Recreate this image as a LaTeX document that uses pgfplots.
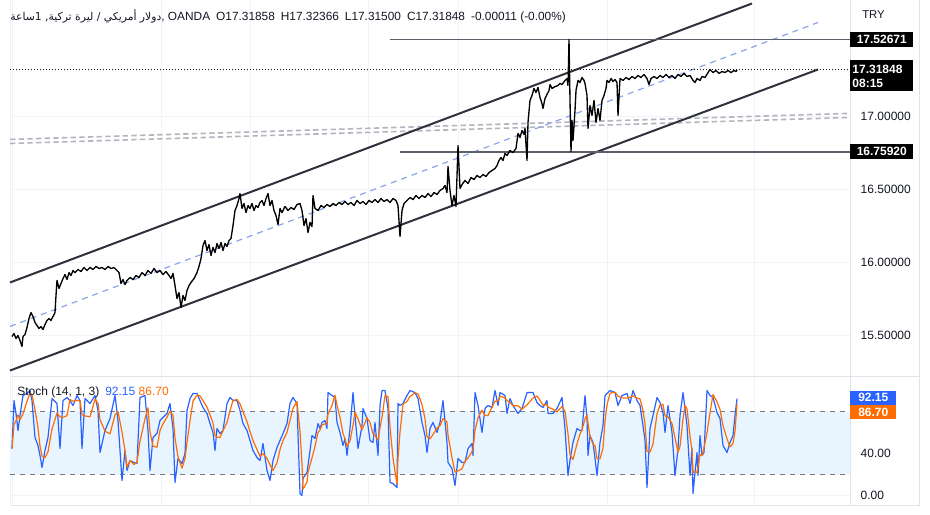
\documentclass[border=0pt]{standalone}
\usepackage{fontspec}
\setmainfont{Liberation Sans}
\newfontfamily\arabicfont[Script=Arabic]{DejaVu Sans}
\TeXXeTstate=1
\usepackage{pgfplots}
\pgfplotsset{compat=1.18}
\definecolor{tvtext}{HTML}{131722}
\definecolor{tvgrid}{HTML}{F0F3FA}
\definecolor{tvborder}{HTML}{E0E3EB}
\definecolor{kblue}{HTML}{2962FF}
\definecolor{dorange}{HTML}{FF6D00}
\definecolor{band}{HTML}{E9F5FE}
\definecolor{midblue}{HTML}{8BA4EA}
\definecolor{dashgray}{HTML}{B2B5BE}
\definecolor{chan}{HTML}{2F323C}
\definecolor{hline}{HTML}{5D606B}
\definecolor{levgray}{HTML}{787B86}
\begin{document}
\begin{tikzpicture}
\path[fill=white] (0pt,0pt) rectangle (697.5pt,381pt);
% frame lines
\draw[tvborder, line width=0.75pt] (637.5pt,2.25pt) -- (637.5pt,381pt);
\draw[tvborder, line width=0.75pt] (689.25pt,2.25pt) -- (689.25pt,381pt);
\draw[tvborder, line width=0.75pt] (7.5pt,99pt) -- (689.25pt,99pt);
\draw[tvborder, line width=0.75pt] (7.5pt,2.25pt) -- (689.25pt,2.25pt);
\draw[tvgrid, line width=0.75pt] (7.5pt,2.25pt) -- (7.5pt,381pt);
% ---------------- price panel
\begin{axis}[at={(7.5pt,99.75pt)}, anchor=south west, scale only axis,
  width=630pt, height=281.25pt,
  xmin=10, xmax=850, ymin=15.226, ymax=17.7945,
  clip=false, axis line style={draw=none},
  major tick length=0pt,
  xtick={12,161,250,368,458,607,754}, xticklabels={},
  ytick={15.5,16,16.5,17},
  yticklabel pos=right,
  grid=major, major grid style={tvgrid, line width=0.75pt},
  yticklabel style={anchor=west, xshift=4.5pt, text=tvtext, font=\fontsize{9}{10}\selectfont},
  /pgf/number format/.cd, fixed, fixed zerofill, precision=5, assume math mode=true]
% gray double dashed lines
\addplot[dashgray, line width=1.2pt, dash pattern=on 4pt off 2.5pt] coordinates {(10,16.843) (848,17.021)};
\addplot[dashgray, line width=1.2pt, dash pattern=on 4pt off 2.5pt] coordinates {(10,16.815) (848,16.993)};
% regression channel
\addplot[chan, line width=1.5pt] coordinates {(10,15.863) (752,17.774)};
\addplot[chan, line width=1.5pt] coordinates {(10,15.260) (818,17.322)};
\addplot[midblue, line width=0.9pt, dash pattern=on 4.5pt off 3.75pt] coordinates {(10,15.562) (818,17.644)};
% horizontal levels
\addplot[hline, line width=1.3pt] coordinates {(390,17.52671) (850,17.52671)};
\addplot[hline, line width=1.3pt] coordinates {(400,16.7592) (850,16.7592)};
\addplot[tvtext, line width=0.75pt, dash pattern=on 0.75pt off 1.5pt] coordinates {(10,17.31848) (850,17.31848)};
% price
\addplot[black, line width=1pt, line join=round] coordinates {
(12,15.493)(14,15.514)(16,15.479)(18,15.500)(20,15.466)(22,15.425)(23,15.493)(25,15.507)(27,15.555)(29,15.616)
(31,15.657)(33,15.630)(35,15.589)(37,15.568)(39,15.548)(41,15.561)(43,15.541)(45,15.575)(47,15.603)(49,15.616)
(51,15.603)(53,15.630)(55,15.657)(56,15.774)(57,15.877)(59,15.822)(61,15.856)(63,15.890)(65,15.918)(67,15.883)
(69,15.931)(71,15.911)(73,15.945)(75,15.931)(78,15.952)(81,15.938)(84,15.966)(87,15.945)(90,15.966)(93,15.952)
(96,15.973)(99,15.959)(102,15.966)(105,15.952)(108,15.973)(111,15.959)(114,15.966)(117,15.945)(119,15.931)(121,15.856)
(123,15.883)(125,15.849)(127,15.877)(130,15.897)(133,15.883)(136,15.911)(139,15.897)(142,15.931)(145,15.911)(148,15.945)
(151,15.925)(154,15.959)(157,15.931)(160,15.945)(163,15.918)(166,15.938)(169,15.911)(171,15.890)(173,15.925)(175,15.842)
(177,15.753)(179,15.794)(181,15.692)(183,15.774)(185,15.740)(187,15.808)(189,15.842)(191,15.863)(194,15.890)(197,15.931)
(199,15.973)(201,16.027)(203,16.116)(205,16.151)(207,16.082)(209,16.123)(211,16.048)(213,16.103)(215,16.068)(217,16.130)
(219,16.096)(221,16.137)(223,16.082)(225,16.130)(227,16.110)(229,16.151)(231,16.164)(233,16.253)(235,16.356)(237,16.390)
(239,16.438)(240,16.472)(242,16.370)(244,16.404)(246,16.342)(248,16.390)(250,16.370)(252,16.404)(254,16.356)(256,16.390)
(258,16.377)(260,16.411)(262,16.425)(264,16.390)(266,16.438)(268,16.472)(270,16.390)(272,16.425)(274,16.356)(276,16.322)
(278,16.260)(280,16.370)(282,16.342)(285,16.384)(288,16.356)(291,16.377)(294,16.363)(297,16.397)(300,16.404)(302,16.356)
(304,16.253)(306,16.301)(308,16.205)(310,16.274)(312,16.246)(313,16.459)(315,16.370)(318,16.356)(321,16.390)(324,16.377)
(327,16.397)(330,16.384)(333,16.404)(336,16.390)(339,16.411)(342,16.397)(345,16.418)(348,16.397)(351,16.411)(354,16.390)
(357,16.425)(360,16.404)(363,16.418)(366,16.397)(369,16.425)(372,16.411)(375,16.431)(378,16.411)(381,16.438)(384,16.418)
(387,16.431)(390,16.411)(393,16.438)(396,16.425)(398,16.390)(400,16.178)(402,16.356)(404,16.404)(407,16.425)(410,16.445)
(413,16.431)(416,16.459)(419,16.438)(422,16.459)(425,16.445)(428,16.472)(431,16.452)(434,16.479)(437,16.466)(440,16.493)
(443,16.507)(445,16.527)(447,16.479)(448,16.658)(450,16.493)(452,16.390)(454,16.459)(456,16.384)(458,16.801)(460,16.507)
(462,16.534)(465,16.562)(468,16.541)(471,16.582)(474,16.568)(477,16.596)(480,16.582)(483,16.603)(486,16.589)(489,16.616)
(492,16.630)(495,16.644)(497,16.664)(499,16.699)(501,16.719)(503,16.699)(505,16.747)(507,16.733)(510,16.767)(513,16.753)
(516,16.781)(518,16.884)(520,16.856)(522,16.904)(524,16.877)(525,16.918)(527,16.699)(528,16.959)(530,17.110)(532,17.144)
(534,17.192)(536,17.164)(538,17.199)(540,17.130)(542,17.089)(543,17.055)(545,17.123)(547,17.151)(549,17.178)(550,17.219)
(552,17.192)(555,17.205)(558,17.212)(560,17.226)(562,17.219)(565,17.247)(567,17.260)(568,17.212)(569,17.527)(570,17.110)
(571,16.759)(572,16.973)(573,16.836)(575,17.041)(576,17.178)(578,17.247)(580,17.233)(582,17.267)(584,17.247)(585,17.226)
(587,17.144)(588,16.918)(590,17.075)(592,17.007)(594,17.110)(596,16.959)(598,17.055)(600,16.973)(602,17.110)(604,17.144)
(606,17.192)(607,17.247)(609,17.233)(611,17.260)(613,17.240)(615,17.253)(617,17.233)(618,17.007)(620,17.260)(623,17.247)
(626,17.267)(629,17.253)(632,17.274)(635,17.260)(638,17.281)(641,17.267)(644,17.288)(647,17.260)(649,17.219)(651,17.260)
(654,17.274)(657,17.260)(660,17.281)(663,17.267)(666,17.288)(669,17.267)(672,17.281)(675,17.260)(678,17.288)(681,17.274)
(684,17.295)(687,17.274)(690,17.281)(693,17.247)(695,17.233)(697,17.260)(700,17.247)(702,17.274)(705,17.267)(708,17.301)
(710,17.322)(713,17.301)(716,17.315)(719,17.295)(722,17.308)(725,17.301)(728,17.315)(731,17.301)(734,17.315)(736,17.308)
(737,17.318)};
% right-scale price boxes
\node[anchor=west, fill=black, text=white, font=\bfseries\fontsize{9}{10}\selectfont, minimum width=47.25pt, minimum height=11.25pt, inner sep=1.5pt, align=left] at (axis cs:850,17.52671) {17.52671};
\node[anchor=west, fill=black, text=white, font=\bfseries\fontsize{9}{10.5}\selectfont, minimum width=47.25pt, minimum height=23.25pt, inner sep=1.5pt, align=left, text width=44pt] at (axis cs:850,17.2774) {17.31848\\08:15};
\node[anchor=west, fill=black, text=white, font=\bfseries\fontsize{9}{10}\selectfont, minimum width=47.25pt, minimum height=11.25pt, inner sep=1.5pt, align=left] at (axis cs:850,16.7592) {16.75920};
\end{axis}
% header
\node[anchor=west, text=tvtext, inner sep=0pt] at (7.5pt,369pt) {{\arabicfont\fontsize{8.1}{9}\selectfont\beginR دولار أمريكي / ليرة تركية, 1ساعة\endR}{\fontsize{8.9}{10}\selectfont, OANDA\hspace{4.5pt}O17.31858\hspace{4.5pt}H17.32366\hspace{4.5pt}L17.31500\hspace{4.5pt}C17.31848\hspace{4.5pt}-0.00011 (-0.00\%)}};
\node[anchor=west, text=tvtext, inner sep=0pt, font=\fontsize{8.5}{10}\selectfont] at (646.5pt,370.5pt) {TRY};
% ---------------- stochastic panel
\begin{axis}[at={(7.5pt,2.25pt)}, anchor=south west, scale only axis,
  width=630pt, height=96.75pt,
  xmin=10, xmax=850, ymin=-9.5, ymax=113.3,
  clip=false, axis line style={draw=none},
  major tick length=0pt,
  xtick={12,161,250,368,458,607,754}, xticklabels={},
  ytick={0,40},
  yticklabel pos=right,
  grid=major, major grid style={tvgrid, line width=0.75pt},
  yticklabel style={anchor=west, xshift=4.5pt, text=tvtext, font=\fontsize{9}{10}\selectfont},
  /pgf/number format/.cd, fixed, fixed zerofill, precision=2, assume math mode=true]
\addplot[draw=none, fill=band] coordinates {(10,20) (850,20) (850,80) (10,80) (10,20)};
\addplot[levgray, line width=0.8pt, dash pattern=on 3.75pt off 3.75pt] coordinates {(10,80) (850,80)};
\addplot[levgray, line width=0.8pt, dash pattern=on 3.75pt off 3.75pt] coordinates {(10,20) (850,20)};
% %K
\addplot[kblue, line width=0.9pt, line join=round] coordinates {
(12,44.7)(14,90.4)(16,78.1)(18,61.9)(20,76.2)(23,95.2)(27,97.1)(30,100)(32,90.4)(35,55.2)
(38,47.6)(40,38.1)(42,26.7)(45,42.8)(48,55.2)(52,92.3)(57,87.6)(60,44.7)(63,90.4)(67,93.3)
(70,90.4)(73,85.7)(77,95.2)(80,90.4)(82,44.7)(85,92.3)(90,87.6)(95,95.2)(98,80.9)(100,40.9)
(105,61.9)(110,73.3)(115,95.2)(118,71.4)(122,14.3)(125,42.8)(127,23.8)(130,33.3)(134,31.4)(137,30.5)
(140,93.3)(145,95.2)(148,61.9)(150,23.8)(153,55.2)(157,59.0)(160,71.4)(163,74.3)(167,78.1)(170,87.6)
(173,63.8)(175,12.4)(178,35.2)(182,30.5)(185,40.0)(187,80.9)(190,92.3)(193,97.1)(197,97.1)(200,90.4)
(203,83.8)(207,78.1)(210,68.5)(213,60.0)(215,42.8)(217,63.8)(220,59.0)(223,61.9)(227,87.6)(230,93.3)
(233,90.4)(237,90.4)(240,80.9)(243,68.5)(247,61.9)(250,52.4)(253,42.8)(257,36.2)(260,33.3)(263,49.5)
(267,23.8)(270,14.3)(273,33.3)(277,45.7)(280,52.4)(283,59.0)(287,68.5)(290,87.6)(293,93.3)(297,87.6)
(300,1.9)(302,0)(303,16.2)(307,21.9)(308,28.6)(312,57.1)(315,54.3)(318,68.5)(320,63.8)(322,69.5)
(325,71.4)(327,63.8)(328,98)(332,95.2)(335,93.3)(337,69.5)(340,60.0)(343,47.6)(345,54.3)(347,38.1)
(350,63.8)(353,98)(355,76.2)(358,44.7)(362,66.6)(363,82.8)(367,73.3)(370,52.4)(373,50.5)(375,69.5)
(378,38.1)(380,85.7)(382,100)(385,100)(388,82.8)(390,12.4)(393,11.4)(397,7.6)(398,87.6)(400,85.7)
(403,87.6)(407,95.2)(410,100)(415,98)(418,92.3)(422,69.5)(425,57.1)(427,40.9)(430,63.8)(433,69.5)
(437,60.0)(440,69.5)(443,90.4)(447,50.5)(448,31.4)(452,25.7)(455,9.5)(458,35.2)(462,31.4)(465,31.4)
(468,44.7)(472,49.5)(473,38.1)(475,98)(478,85.7)(482,60.0)(485,82.8)(488,85.7)(492,83.8)(495,100)
(498,85.7)(500,98)(505,95.2)(507,78.1)(510,92.3)(513,85.7)(518,78.1)(522,82.8)(527,98)(533,98)
(537,88.5)(540,85.7)(543,83.8)(547,90.4)(548,78.1)(553,78.1)(557,82.8)(562,93.3)(565,63.8)(568,19.0)
(570,33.3)(573,50.5)(577,63.8)(580,61.9)(582,61.9)(585,95.2)(587,73.3)(588,38.1)(590,57.1)(593,50.5)
(595,35.2)(597,19.0)(600,50.5)(603,66.6)(605,95.2)(607,97.1)(610,100)(615,98)(618,85.7)(622,95.2)
(627,97.1)(630,87.6)(633,100)(637,90.4)(640,85.7)(643,66.6)(645,52.4)(647,7.6)(650,63.8)(653,76.2)
(657,93.3)(660,88.5)(663,79.0)(665,60.0)(668,85.7)(672,60.0)(675,19.0)(678,44.7)(680,76.2)(683,98)
(685,82.8)(687,66.6)(690,19.0)(692,44.7)(693,1.9)(695,21.9)(697,40.9)(698,19.0)(700,57.1)(702,38.1)
(704,40.9)(707,100)(710,95.2)(713,93.3)(717,79.0)(720,73.3)(723,47.6)(727,40.9)(730,50.5)(733,57.1)
(735,76.2)(737,92.15)};
% %D
\addplot[dorange, line width=0.9pt, line join=round] coordinates {
(12,44.7)(14,67.6)(16,71.1)(18,76.8)(20,72.1)(23,77.8)(27,89.5)(30,97.4)(32,95.8)(35,81.9)
(38,64.4)(40,47.0)(42,37.5)(45,35.9)(48,41.6)(52,63.4)(57,78.4)(60,74.9)(63,74.2)(67,76.1)
(70,91.4)(73,89.8)(77,90.4)(80,90.4)(82,76.8)(85,75.8)(90,74.9)(95,91.7)(98,87.9)(100,72.3)
(105,61.2)(110,58.7)(115,76.8)(118,80.0)(122,60.3)(125,42.8)(127,27.0)(130,33.3)(134,29.5)(137,31.7)
(140,51.7)(145,73.0)(148,83.5)(150,60.3)(153,47.0)(157,46.0)(160,61.9)(163,68.2)(167,74.6)(170,80.0)
(173,76.5)(175,54.6)(178,37.1)(182,26.0)(185,35.2)(187,50.5)(190,71.1)(193,90.1)(197,95.5)(200,94.9)
(203,90.4)(207,84.1)(210,76.8)(213,68.9)(215,57.1)(217,55.5)(220,55.2)(223,61.6)(227,69.5)(230,80.9)
(233,90.4)(237,91.4)(240,87.2)(243,79.9)(247,70.4)(250,60.9)(253,52.4)(257,43.8)(260,37.4)(263,39.7)
(267,35.5)(270,29.2)(273,23.8)(277,31.1)(280,43.8)(283,52.4)(287,60.0)(290,71.7)(293,83.1)(297,89.5)
(300,60.9)(302,29.8)(303,6.0)(307,12.7)(308,22.2)(312,35.9)(315,46.7)(318,60.0)(320,62.2)(322,67.3)
(325,68.2)(327,68.2)(328,77.7)(332,85.7)(335,95.5)(337,86.0)(340,74.3)(343,59.0)(345,54.0)(347,46.7)
(350,52.1)(353,66.6)(355,79.3)(358,73.0)(362,62.5)(363,64.7)(367,74.2)(370,69.5)(373,58.7)(375,57.5)
(378,52.7)(380,64.4)(382,74.6)(385,95.2)(388,94.3)(390,65.1)(393,35.5)(397,10.5)(398,35.5)(400,60.3)
(403,87.0)(407,89.5)(410,94.3)(415,97.7)(418,96.8)(422,86.6)(425,73.0)(427,55.8)(430,53.9)(433,58.1)
(437,64.4)(440,66.3)(443,73.3)(447,70.1)(448,57.4)(452,35.9)(455,22.2)(458,23.5)(462,25.4)(465,32.7)
(468,35.8)(472,41.9)(473,44.1)(475,61.9)(478,73.9)(482,81.2)(485,76.2)(488,76.2)(492,84.1)(495,89.8)
(498,89.8)(500,94.6)(505,93.0)(507,90.4)(510,88.5)(513,85.4)(518,85.4)(522,82.2)(527,86.3)(533,92.9)
(537,94.8)(540,90.7)(543,86.0)(547,86.6)(548,84.1)(553,82.2)(557,79.7)(562,84.7)(565,80.0)(568,58.7)
(570,38.7)(573,34.3)(577,49.2)(580,58.7)(582,62.5)(585,73.0)(587,76.8)(588,68.9)(590,56.2)(593,48.6)
(595,47.6)(597,34.9)(600,34.9)(603,45.4)(605,70.8)(607,86.3)(610,97.4)(615,98.4)(618,94.6)(622,93.0)
(627,92.7)(630,93.3)(633,94.9)(637,92.7)(640,92.0)(643,80.9)(645,68.2)(647,42.2)(650,41.3)(653,49.2)
(657,77.8)(660,86.0)(663,86.9)(665,75.8)(668,74.9)(672,68.6)(675,54.9)(678,41.2)(680,46.6)(683,73.0)
(685,85.7)(687,82.5)(690,56.1)(692,43.4)(693,21.9)(695,22.8)(697,21.6)(698,27.3)(700,39.0)(702,38.1)
(704,45.4)(707,59.7)(710,78.7)(713,96.2)(717,89.2)(720,81.9)(723,66.6)(727,53.9)(730,46.3)(733,49.5)
(735,61.3)(737,86.7)};
% value boxes
\node[anchor=west, fill=kblue, text=white, font=\bfseries\fontsize{9}{10}\selectfont, minimum width=34.5pt, minimum height=10.5pt, inner sep=1.2pt] at (axis cs:850,93.3) {92.15};
\node[anchor=west, fill=dorange, text=white, font=\bfseries\fontsize{9}{10}\selectfont, minimum width=34.5pt, minimum height=10.5pt, inner sep=1.2pt] at (axis cs:850,79.3) {86.70};
\end{axis}
% stoch legend
\node[anchor=west, inner sep=0pt, font=\fontsize{9}{10}\selectfont] at (12.75pt,87pt) {\textcolor{tvtext}{Stoch (14, 1, 3)}\hspace{4.5pt}\textcolor{kblue}{92.15}\hspace{2.5pt}\textcolor{dorange}{86.70}};
\end{tikzpicture}
\end{document}
